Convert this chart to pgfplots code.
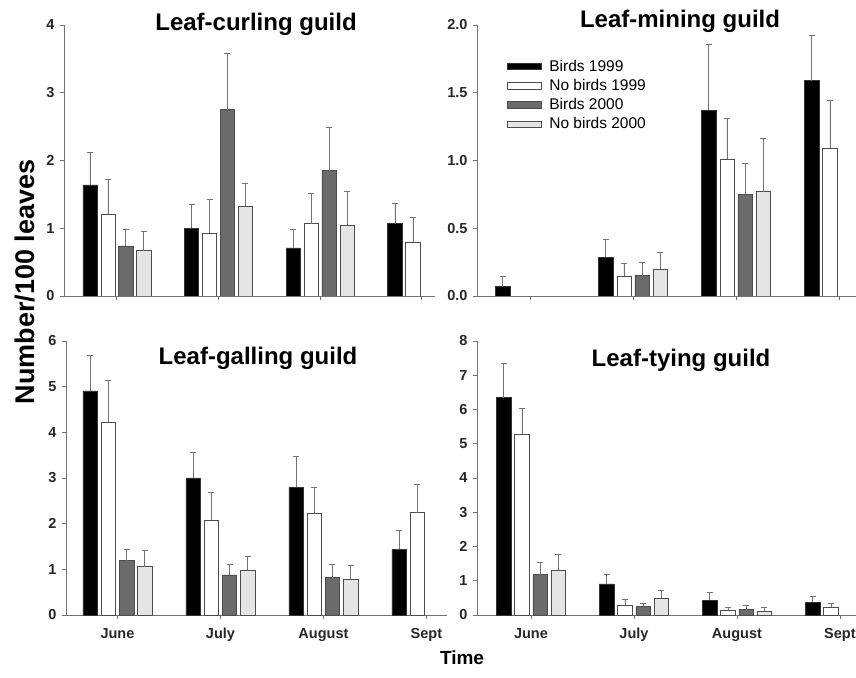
\documentclass[border=0pt]{standalone}
\usepackage{fontspec}
\setmainfont{Liberation Sans}
\usepackage{pgfplots}
\pgfplotsset{compat=1.18}
\definecolor{axgray}{gray}{0.45}
\definecolor{darkbar}{gray}{0.42}
\definecolor{lightbar}{gray}{0.9}
\pgfplotsset{
  panel/.style={
    scale only axis,
    anchor=south west,
    axis x line=bottom, axis y line=left,
    axis line style={-, color=axgray, line width=0.8pt},
    tick style={color=axgray, line width=0.8pt},
    tick align=outside,
    major tick length=4pt,
    ymin=0,
    xtick={0,1,2,3},
    ybar, bar width=0.14,
    tick label style={font=\bfseries\fontsize{14.5}{14.5}\selectfont, color=black!85},
    /pgf/number format/assume math mode=true,
    yticklabel style={xshift=-2pt},
    xticklabel style={yshift=-5pt, text height=10.5pt, text depth=3pt},
    error bars/y dir=plus, error bars/y explicit,
    error bars/error bar style={color=axgray, line width=0.7pt},
    error bars/error mark options={rotate=90, color=axgray, mark size=3pt, line width=0.7pt},
    legend image code/.code={\draw[##1, line width=0.6pt] (0pt,-3.2pt) rectangle (34pt,3.2pt);},
  },
  s1/.style={fill=black, draw=black!80, line width=0.5pt, bar shift=-0.265},
  s2/.style={fill=white, draw=black!70, line width=0.5pt, bar shift=-0.088},
  s3/.style={fill=darkbar, draw=black!70, line width=0.5pt, bar shift=0.088},
  s4/.style={fill=lightbar, draw=black!70, line width=0.5pt, bar shift=0.265},
}
\begin{document}
\begin{tikzpicture}
\path[use as bounding box] (0pt,0pt) rectangle (856pt,677pt);

% Leaf-curling
\begin{axis}[panel, at={(64pt,381pt)}, width=371pt, height=271pt,
  xmin=-0.52, xmax=3.13, ymax=4, ytick={0,1,2,3,4}, xticklabels={}]
\addplot[s1] coordinates {(0,1.64) +- (0,0.48) (1,1.00) +- (0,0.36) (2,0.71) +- (0,0.28) (3,1.07) +- (0,0.30)};
\addplot[s2] coordinates {(0,1.21) +- (0,0.51) (1,0.93) +- (0,0.49) (2,1.07) +- (0,0.45) (3,0.79) +- (0,0.37)};
\addplot[s3] coordinates {(0,0.74) +- (0,0.24) (1,2.75) +- (0,0.83) (2,1.85) +- (0,0.64)};
\addplot[s4] coordinates {(0,0.67) +- (0,0.29) (1,1.33) +- (0,0.33) (2,1.05) +- (0,0.49)};
\end{axis}

% Leaf-mining
\begin{axis}[panel, at={(477pt,381pt)}, width=379pt, height=271pt,
  xmin=-0.515, xmax=3.165, ymax=2, ytick={0,0.5,1,1.5,2}, xticklabels={},
  yticklabel style={/pgf/number format/.cd, fixed, fixed zerofill, precision=1},
  legend style={draw=none, fill=none, at={(0.078,0.875)}, anchor=north west,
    font=\fontsize{15.5}{15.5}\selectfont, row sep=4.5pt, inner sep=0pt,
    nodes={inner xsep=2pt, inner ysep=1pt},
    /tikz/every odd column/.append style={column sep=6pt}},
  legend cell align=left]
\addplot[s1] coordinates {(0,0.07) +- (0,0.075) (1,0.285) +- (0,0.133) (2,1.37) +- (0,0.49) (3,1.59) +- (0,0.33)};
\addplot[s2] coordinates {(1,0.145) +- (0,0.096) (2,1.01) +- (0,0.30) (3,1.09) +- (0,0.355)};
\addplot[s3] coordinates {(1,0.15) +- (0,0.10) (2,0.75) +- (0,0.226)};
\addplot[s4] coordinates {(1,0.197) +- (0,0.128) (2,0.77) +- (0,0.394)};
\legend{Birds 1999, No birds 1999, Birds 2000, No birds 2000}
\end{axis}

% Leaf-galling
\begin{axis}[panel, at={(66pt,62pt)}, width=381pt, height=274pt,
  xmin=-0.5, xmax=3.2, ymax=6, ytick={0,1,2,3,4,5,6},
  xticklabels={June, July, August, Sept}]
\addplot[s1] coordinates {(0,4.91) +- (0,0.775) (1,3.00) +- (0,0.56) (2,2.80) +- (0,0.68) (3,1.44) +- (0,0.42)};
\addplot[s2] coordinates {(0,4.23) +- (0,0.90) (1,2.07) +- (0,0.62) (2,2.22) +- (0,0.58) (3,2.24) +- (0,0.63)};
\addplot[s3] coordinates {(0,1.19) +- (0,0.24) (1,0.88) +- (0,0.23) (2,0.82) +- (0,0.29)};
\addplot[s4] coordinates {(0,1.06) +- (0,0.35) (1,0.98) +- (0,0.31) (2,0.78) +- (0,0.30)};
\end{axis}

% Leaf-tying
\begin{axis}[panel, at={(477pt,62pt)}, width=379pt, height=274pt,
  xmin=-0.524, xmax=3.156, ymax=8, ytick={0,1,2,3,4,5,6,7,8},
  xticklabels={June, July, August, Sept}]
\addplot[s1] coordinates {(0,6.35) +- (0,0.99) (1,0.91) +- (0,0.27) (2,0.43) +- (0,0.23) (3,0.37) +- (0,0.18)};
\addplot[s2] coordinates {(0,5.29) +- (0,0.74) (1,0.28) +- (0,0.17) (2,0.14) +- (0,0.09) (3,0.23) +- (0,0.10)};
\addplot[s3] coordinates {(0,1.18) +- (0,0.37) (1,0.25) +- (0,0.08) (2,0.155) +- (0,0.125)};
\addplot[s4] coordinates {(0,1.32) +- (0,0.45) (1,0.49) +- (0,0.22) (2,0.11) +- (0,0.11)};
\end{axis}

\node[font=\bfseries\fontsize{24}{24}\selectfont] at (256pt,653pt) {Leaf-curling guild};
\node[font=\bfseries\fontsize{24}{24}\selectfont] at (680pt,656pt) {Leaf-mining guild};
\node[font=\bfseries\fontsize{24}{24}\selectfont] at (258pt,319pt) {Leaf-galling guild};
\node[font=\bfseries\fontsize{24}{24}\selectfont] at (681pt,317pt) {Leaf-tying guild};
\node[rotate=90, font=\bfseries\fontsize{27}{27}\selectfont] at (25pt,395pt) {Number/100 leaves};
\node[font=\bfseries\fontsize{19}{19}\selectfont] at (462pt,19pt) {Time};
\end{tikzpicture}
\end{document}
